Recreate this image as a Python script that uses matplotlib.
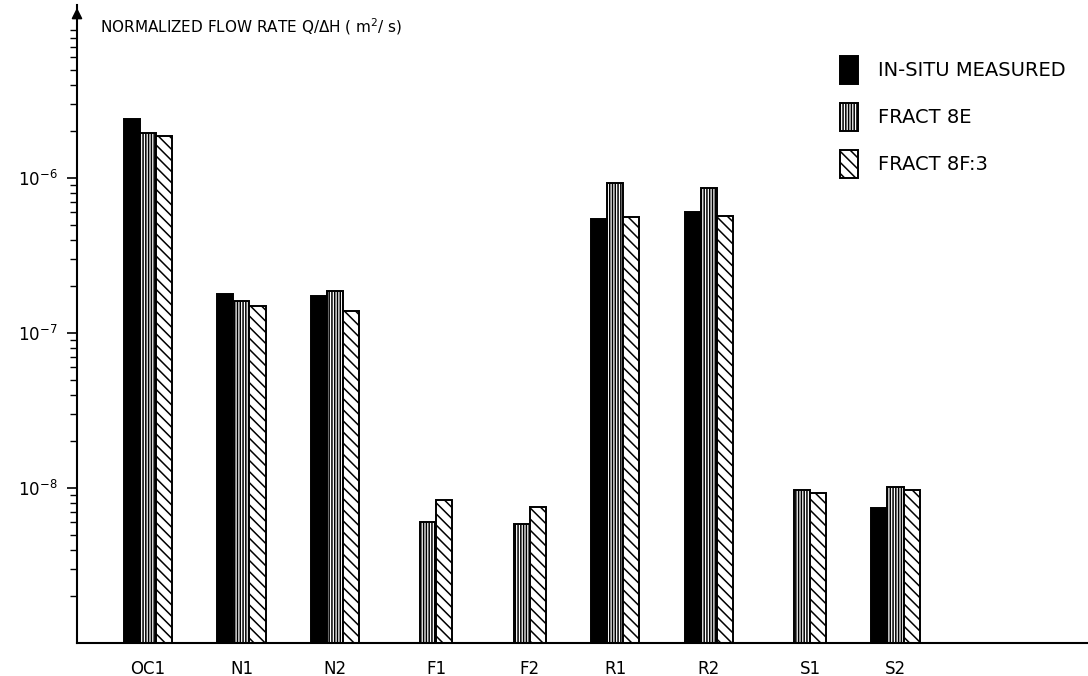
import numpy as np
import matplotlib
matplotlib.use("Agg")
import matplotlib.pyplot as plt
from matplotlib.ticker import FixedLocator, NullFormatter, LogLocator

# --- data ---
sites = ['OC1', 'N1', 'N2', 'F1', 'F2', 'R1', 'R2', 'S1', 'S2']
measured = [2.4e-6, 1.79e-7, 1.73e-7, np.nan, np.nan, 5.44e-7, 6.04e-7, np.nan, 7.43e-9]
fract_8e = [1.95e-6, 1.61e-7, 1.87e-7, 6.0e-9, 5.9e-9, 9.3e-7, 8.6e-7, 9.7e-9, 1.01e-8]
fract_8f3 = [1.87e-6, 1.49e-7, 1.39e-7, 8.4e-9, 7.5e-9, 5.6e-7, 5.7e-7, 9.3e-9, 9.7e-9]
series_names = ['IN-SITU MEASURED', 'FRACT 8E', 'FRACT 8F:3']
decades = [1e-8, 1e-7, 1e-6]
decade_labels = [r'$10^{-8}$', r'$10^{-7}$', r'$10^{-6}$']

plt.rcParams['font.family'] = ['DejaVu Sans']
plt.rcParams['hatch.linewidth'] = 1.1

W, H = 1088, 676
fig = plt.figure(figsize=(W / 100, H / 100), dpi=100)
ax = fig.add_axes([77 / W, 1 - 643 / H, (W - 77) / W, (643 - 5) / H])
ax.set_yscale('log')

x = np.arange(len(sites))
w = 0.172
styles = [
    dict(color='black', edgecolor='black'),
    dict(color='white', edgecolor='black', hatch='||||||'),
    dict(color='white', edgecolor='black', hatch='\\\\\\'),
]
handles = []
for k, (vals, st) in enumerate(zip([measured, fract_8e, fract_8f3], styles)):
    b = ax.bar(x + (k - 1) * w, vals, width=w, linewidth=1.4,
               label=series_names[k], **st)
    handles.append(b)

ax.set_ylim(1e-9, 10 ** -4.884)
ax.set_xlim(-0.76, 10.06)

# x labels centred on the bars that are present
all_vals = np.array([measured, fract_8e, fract_8f3])
label_pos = []
for i in range(len(sites)):
    offs = [(k - 1) * w for k in range(3) if not np.isnan(all_vals[k, i])]
    label_pos.append(i + np.mean(offs))
ax.set_xticks(label_pos)
ax.set_xticklabels(sites, fontsize=12)
ax.tick_params(axis='x', length=0, pad=12)

ax.yaxis.set_major_locator(FixedLocator(decades))
ax.set_yticklabels(decade_labels, fontsize=12)
ax.yaxis.set_minor_locator(LogLocator(base=10, subs=np.arange(2, 10)))
ax.yaxis.set_minor_formatter(NullFormatter())
ax.tick_params(axis='y', which='major', length=7, width=1.2, pad=7)
ax.tick_params(axis='y', which='minor', length=5, width=1.0)

for s in ['top', 'right']:
    ax.spines[s].set_visible(False)
ax.spines['left'].set_linewidth(1.5)
ax.spines['bottom'].set_linewidth(1.5)

# arrow head on the y axis
ax.annotate('', xy=(0, 1.0), xytext=(0, 0.965), xycoords='axes fraction',
            arrowprops=dict(arrowstyle='-|>', color='black', lw=1.2, mutation_scale=16),
            annotation_clip=False)

fig.text(100 / W, 1 - 27 / H, r'NORMALIZED FLOW RATE Q/$\Delta$H ( m$^2$/ s)',
         fontsize=11, va='center', ha='left')

ax.legend(handles=handles, loc='upper left', frameon=False, fontsize=14,
          bbox_to_anchor=(840 / W, 1 - 56 / H), bbox_transform=fig.transFigure,
          borderpad=0, borderaxespad=0, handlelength=0.93, handleheight=1.84,
          handletextpad=1.03, labelspacing=0.97)

fig.savefig('out.png', dpi=100)
